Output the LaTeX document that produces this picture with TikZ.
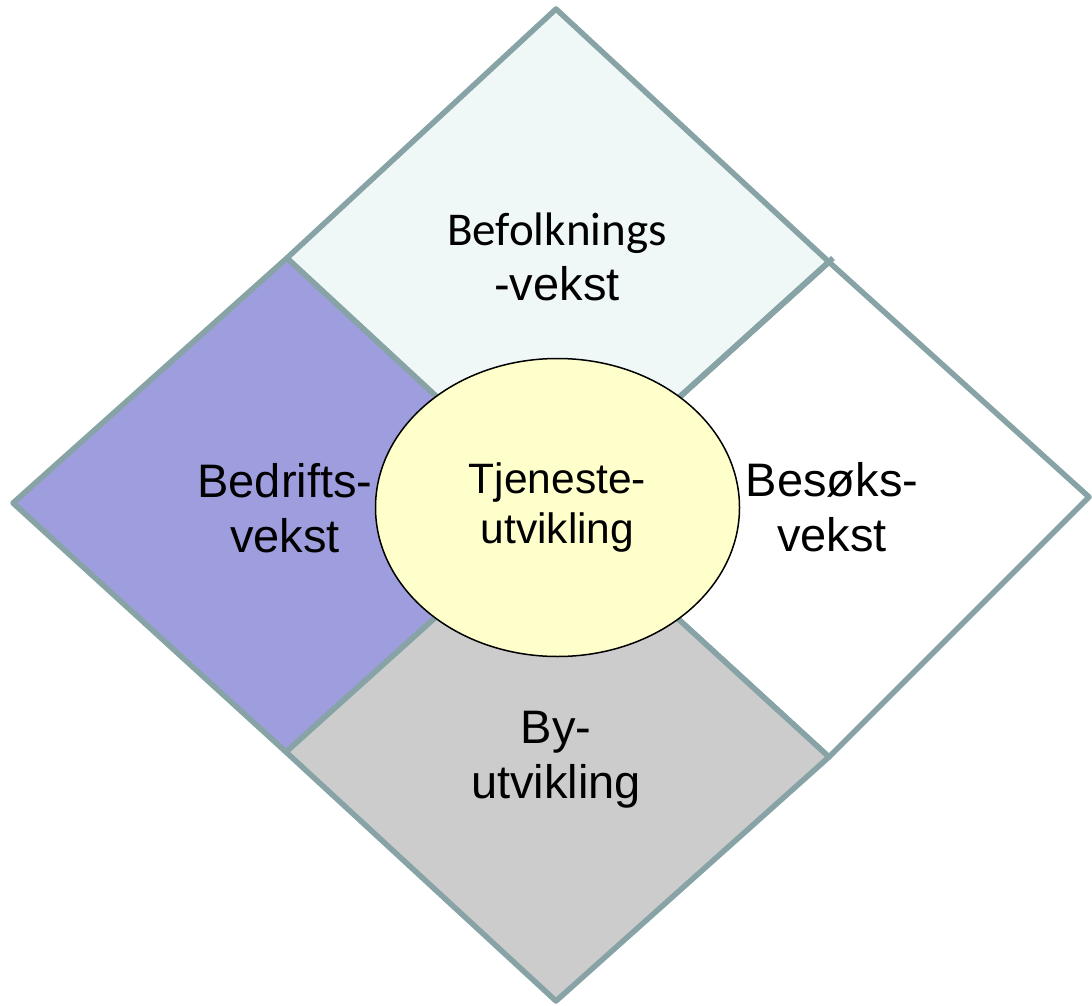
\documentclass[tikz,border=0pt]{standalone}
\usepackage{fontspec}
\setmainfont{Liberation Sans}
\newfontfamily\calfont{Carlito}
\usetikzlibrary{shapes.geometric}
\definecolor{edgegray}{RGB}{135,163,165}
\definecolor{topfill}{RGB}{239,248,247}
\definecolor{leftfill}{RGB}{158,158,222}
\definecolor{bottomfill}{RGB}{204,204,204}
\definecolor{hubfill}{RGB}{255,255,204}
\tikzset{
    quarter/.style = { draw=edgegray, line width=5.5pt, line join=round },
    label/.style = { align=center, inner sep=0pt, font=\fontsize{47}{55}\selectfont },
    hub/.style = { ellipse, draw=black, line width=1.5pt, fill=hubfill, inner sep=0pt,
                   minimum width=364pt, minimum height=298pt, align=center,
                   font=\fontsize{42.5}{50}\selectfont }
}

\begin{document}
\begin{tikzpicture}[x=1pt, y=-1pt]
    \useasboundingbox (0,0) rectangle (1092,1006);

    %%%
    %%% Corners of the four quarters
    %%%
    \coordinate (top)      at (556,9);
    \coordinate (left)     at (13,503);
    \coordinate (right)    at (1089,497);
    \coordinate (bottom)   at (556,1001);
    \coordinate (upleft)   at (287,258);
    \coordinate (upright)  at (829,262);
    \coordinate (lowleft)  at (286,752);
    \coordinate (lowright) at (829,757);
    \coordinate (mid)      at (557,508);

    %%%
    %%% Quarters: fill / corners
    %%%
    \foreach \fillcol / \a / \b / \c / \d in {
        leftfill/upleft/mid/lowleft/left,
        white/upright/right/lowright/mid,
        bottomfill/mid/lowright/bottom/lowleft,
        topfill/top/upright/mid/upleft}
      {
        \draw[quarter, fill=\fillcol] (\a) -- (\b) -- (\c) -- (\d) -- cycle;
      }
    % Double edge between the upper and the right quarter
    \draw[edgegray, line width=5.5pt] ([xshift=4pt,yshift=4pt]upright) -- ([xshift=4pt,yshift=4pt]mid);

    %%%
    %%% Labels
    %%%
    \node[label] (befolkning) at (557,257) {\calfont\fontsize{47}{55}\selectfont Befolknings\\-vekst};
    \node[label] (bedrift)    at (285,508) {Bedrifts-\\vekst};
    \node[label] (besok)      at (832,507) {Besøks-\\vekst};
    \node[label] (by)         at (556,760) {By-\\utvikling};

    % Centre
    \node[hub] (tjeneste) at (557.5,507.5) {Tjeneste-\\utvikling};
\end{tikzpicture}
\end{document}
